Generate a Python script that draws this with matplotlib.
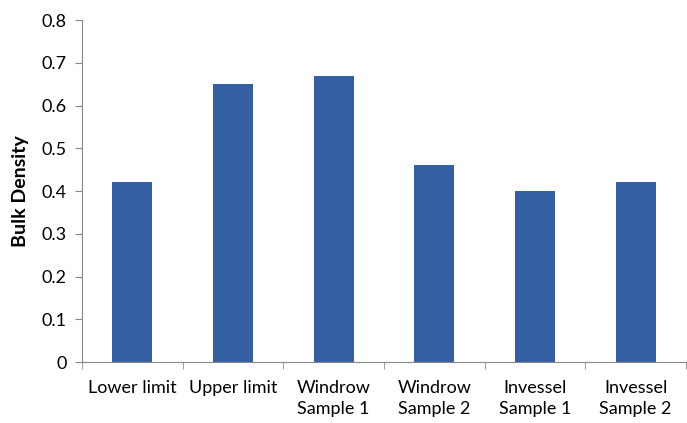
import matplotlib
matplotlib.use("Agg")
import matplotlib.pyplot as plt
import numpy as np

categories = ["Lower limit", "Upper limit", "Windrow\nSample 1", "Windrow\nSample 2", "Invessel\nSample 1", "Invessel\nSample 2"]
values = [0.42, 0.65, 0.67, 0.46, 0.40, 0.42]
yticks = [0, 0.1, 0.2, 0.3, 0.4, 0.5, 0.6, 0.7, 0.8]
ylabel = "Bulk Density"

plt.rcParams['font.family'] = ['Lato', 'DejaVu Sans']

fig = plt.figure(figsize=(6.87, 4.23), dpi=100)
ax = fig.add_axes([82/687, 1-362/423, 604/687, 342/423])
x = np.arange(len(categories))
ax.bar(x, values, width=0.4, color="#355FA3")
ax.set_xlim(-0.5, len(categories)-0.5)
ax.set_ylim(0, 0.8)
ax.set_yticks(yticks)
ax.set_yticklabels([("%g" % v) for v in yticks], fontsize=13)
ax.set_xticks(x)
ax.set_xticklabels(categories, fontsize=13, linespacing=1.35)
ax.tick_params(axis='x', which='major', length=0, pad=13)
ax.set_xticks(np.arange(len(categories)+1)-0.5, minor=True)
ax.tick_params(axis='x', which='minor', length=5, color="#888888", direction='out')
ax.tick_params(axis='y', length=5, color="#888888", direction='out', pad=6)
for s in ['top', 'right']:
    ax.spines[s].set_visible(False)
for s in ['left', 'bottom']:
    ax.spines[s].set_color("#888888")
ax.set_ylabel(ylabel, fontsize=14, fontweight='bold', labelpad=9)
fig.savefig("out.png", dpi=100)
